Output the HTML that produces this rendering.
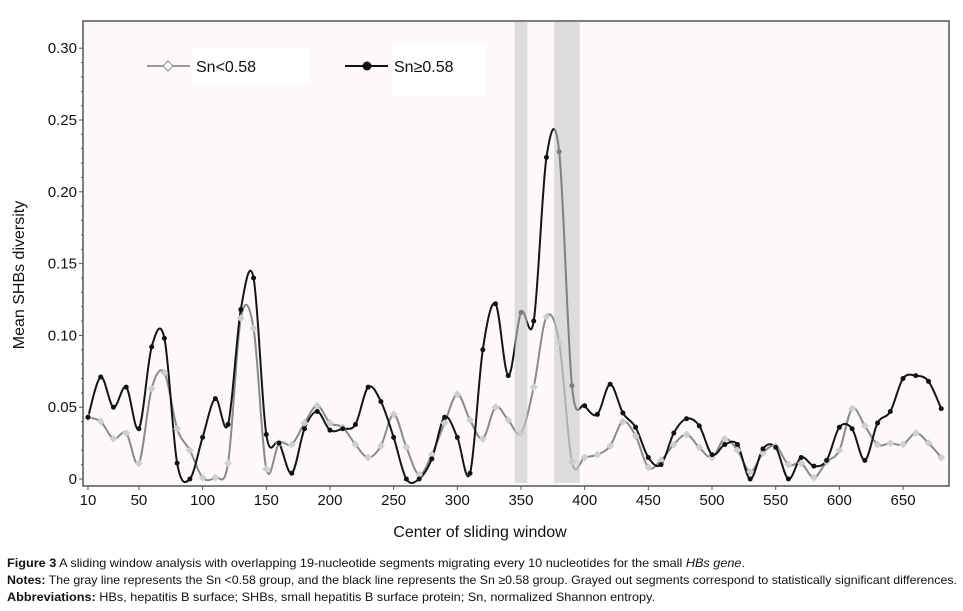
<!DOCTYPE html>
<html><head><meta charset="utf-8"><style>
html,body{margin:0;padding:0;background:#fff;}
svg{display:block;font-family:"Liberation Sans",Arial,sans-serif;}
</style></head><body>
<svg id="chart" width="963" height="611" viewBox="0 0 963 611">
<rect x="0" y="0" width="963" height="611" fill="#fff"/>
<rect x="83" y="21" width="866" height="465" fill="#fdf9f8" stroke="#555" stroke-width="1.5"/>
<g id="axes"></g>
<g id="series"></g>
<g id="bands"></g>
<g>
<rect x="192" y="48" width="118" height="36" fill="#fff"/>
<line x1="147" y1="66" x2="190" y2="66" stroke="#999" stroke-width="2"/>
<path d="M168,61 L173,66 L168,71 L163,66 Z" fill="#fff" stroke="#999" stroke-width="1.2"/>
<text x="196" y="72" font-size="16" fill="#111">Sn&lt;0.58</text>
<rect x="392" y="43" width="95" height="53" fill="#fff"/>
<line x1="345" y1="66" x2="388" y2="66" stroke="#111" stroke-width="2"/>
<circle cx="367" cy="66" r="4.5" fill="#111"/>
<text x="394" y="72" font-size="16" fill="#111">Sn≥0.58</text>
</g>
<text x="480" y="537" font-size="16" text-anchor="middle" fill="#111">Center of sliding window</text>
<text transform="translate(24,275) rotate(-90)" font-size="16" text-anchor="middle" fill="#111">Mean SHBs diversity</text>
<g font-size="12" fill="#111">
<text x="7" y="567" textLength="738" lengthAdjust="spacingAndGlyphs"><tspan font-weight="bold">Figure 3</tspan> A sliding window analysis with overlapping 19-nucleotide segments migrating every 10 nucleotides for the small <tspan font-style="italic">HBs gene</tspan>.</text>
<text x="7" y="584" textLength="950" lengthAdjust="spacingAndGlyphs"><tspan font-weight="bold">Notes:</tspan> The gray line represents the Sn &lt;0.58 group, and the black line represents the Sn ≥0.58 group. Grayed out segments correspond to statistically significant differences.</text>
<text x="7" y="601" textLength="648" lengthAdjust="spacingAndGlyphs"><tspan font-weight="bold">Abbreviations:</tspan> HBs, hepatitis B surface; SHBs, small hepatitis B surface protein; Sn, normalized Shannon entropy.</text>
</g>
</svg>
<script>
const positions = [10,20,30,40,50,60,70,80,90,100,110,120,130,140,150,160,170,180,190,200,210,220,230,240,250,260,270,280,290,300,310,320,330,340,350,360,370,380,390,400,410,420,430,440,450,460,470,480,490,500,510,520,530,540,550,560,570,580,590,600,610,620,630,640,650,660,670,680];
const snHigh = [0.043,0.071,0.050,0.064,0.035,0.092,0.098,0.011,0.0,0.029,0.056,0.038,0.118,0.140,0.031,0.025,0.004,0.035,0.047,0.034,0.035,0.038,0.064,0.054,0.029,0.0,0.0,0.014,0.043,0.029,0.004,0.090,0.122,0.072,0.116,0.110,0.224,0.228,0.065,0.051,0.045,0.066,0.046,0.036,0.015,0.010,0.032,0.042,0.037,0.017,0.024,0.024,0.0,0.021,0.022,0.0,0.015,0.009,0.013,0.036,0.035,0.013,0.039,0.047,0.070,0.072,0.068,0.049];
const snLow = [0.043,0.040,0.028,0.032,0.011,0.063,0.074,0.035,0.020,0.001,0.001,0.011,0.112,0.105,0.007,0.025,0.024,0.039,0.051,0.039,0.036,0.024,0.015,0.023,0.045,0.022,0.003,0.017,0.039,0.059,0.041,0.028,0.050,0.041,0.032,0.064,0.113,0.095,0.012,0.015,0.017,0.023,0.040,0.030,0.008,0.013,0.024,0.031,0.022,0.015,0.028,0.020,0.005,0.018,0.023,0.010,0.011,0.001,0.012,0.020,0.049,0.037,0.024,0.025,0.024,0.032,0.025,0.015];
const bandRanges = [[345,355],[376,396]];
const xTicks = [10,50,100,150,200,250,300,350,400,450,500,550,600,650];
const yTicks = [0,0.05,0.10,0.15,0.20,0.25,0.30];
const yTickLabels = ["0","0.05","0.10","0.15","0.20","0.25","0.30"];

const NS="http://www.w3.org/2000/svg";
const xs = v => 88 + (v-10)*1.2735;
const ys = v => 479 - v*1436;
function mk(tag, attrs, parent){const e=document.createElementNS(NS,tag);for(const k in attrs)e.setAttribute(k,attrs[k]);parent.appendChild(e);return e;}

const bands=document.getElementById('bands');
bandRanges.forEach((r,i)=>{
  const b=mk('rect',{x:xs(r[0]),y:22,width:xs(r[1])-xs(r[0]),height:461,fill:'#c8c8c8','fill-opacity':0.6},bands);
  
  
});
const axes=document.getElementById('axes');
yTicks.forEach((t,i)=>{
  const l=mk('line',{x1:79,x2:83,y1:ys(t),y2:ys(t),stroke:'#555'},axes);
  
  
  const tx=mk('text',{x:77,y:ys(t)+5,'font-size':15,'text-anchor':'end',fill:'#111'},axes);
  tx.textContent=yTickLabels[i];
  
  
});
for(let v=0.01;v<0.3;v+=0.01){
  if(Math.abs(v*20-Math.round(v*20))<1e-6) continue;
  mk('line',{x1:81,x2:83,y1:ys(v),y2:ys(v),stroke:'#555'},axes);
}
xTicks.forEach(t=>{
  mk('line',{x1:xs(t),x2:xs(t),y1:486,y2:490,stroke:'#555'},axes);
  const tx=mk('text',{x:xs(t),y:505,'font-size':15,'text-anchor':'middle',fill:'#111'},axes);
  tx.textContent=t;
  
  
});
function smooth(pts){
  let d='M'+pts[0][0]+','+pts[0][1];
  for(let i=0;i<pts.length-1;i++){
    const p0=pts[Math.max(0,i-1)],p1=pts[i],p2=pts[i+1],p3=pts[Math.min(pts.length-1,i+2)];
    const c1=[p1[0]+(p2[0]-p0[0])/6,p1[1]+(p2[1]-p0[1])/6];
    const c2=[p2[0]-(p3[0]-p1[0])/6,p2[1]-(p3[1]-p1[1])/6];
    d+=' C'+c1.join(',')+' '+c2.join(',')+' '+p2.join(',');
  }
  return d;
}
const series=document.getElementById('series');
const lowPts=positions.map((p,i)=>[xs(p),ys(snLow[i])]);
const highPts=positions.map((p,i)=>[xs(p),ys(snHigh[i])]);
const lowLine=mk('path',{d:smooth(lowPts),fill:'none',stroke:'#8a8a8a','stroke-width':2},series);


const highLine=mk('path',{d:smooth(highPts),fill:'none',stroke:'#151515','stroke-width':2},series);


lowPts.forEach(p=>{
  const m=mk('path',{d:`M${p[0]},${p[1]-4} L${p[0]+4},${p[1]} L${p[0]},${p[1]+4} L${p[0]-4},${p[1]} Z`,fill:'#cfcfcf'},series);
  
  
});
highPts.forEach(p=>{
  const m=mk('circle',{cx:p[0],cy:p[1],r:2.5,fill:'#111'},series);
  
  
});
</script>
</body></html>
